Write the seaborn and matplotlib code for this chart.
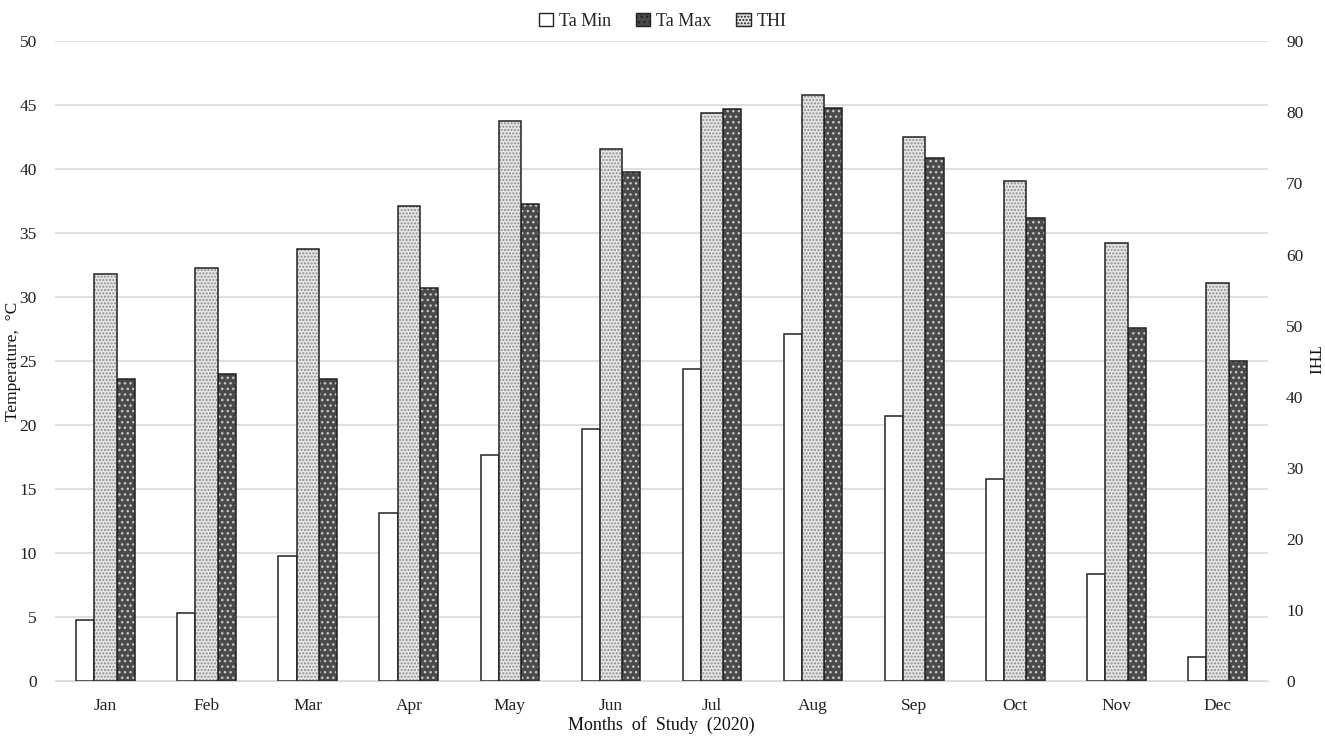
import numpy as np
import pandas as pd
import matplotlib
matplotlib.use('Agg')
import matplotlib.pyplot as plt
import seaborn as sns
from matplotlib.patches import Patch

months = ['Jan', 'Feb', 'Mar', 'Apr', 'May', 'Jun', 'Jul', 'Aug', 'Sep', 'Oct', 'Nov', 'Dec']
ta_min = [4.8, 5.3, 9.8, 13.1, 17.7, 19.7, 24.4, 27.1, 20.7, 15.8, 8.4, 1.9]
ta_max = [23.6, 24.0, 23.6, 30.7, 37.3, 39.8, 44.7, 44.8, 40.9, 36.2, 27.6, 25.0]
thi = [57.2, 58.1, 60.8, 66.8, 78.8, 74.9, 79.9, 82.4, 76.5, 70.4, 61.6, 56.0]

sns.set_style('white')
plt.rcParams['font.family'] = ['Liberation Serif', 'DejaVu Serif']

fig = plt.figure(figsize=(13.25, 7.38), dpi=100)
ax = fig.add_axes([0.0415, 0.0772, 0.9155, 0.8668])
ax2 = ax.twinx()

idx = np.arange(len(months))

# light dotted fill for THI, dark fill with light dots for Ta Max
styles = {
    'Ta Min': dict(face='white', hatch=None, hcol='white', w=0.18, off=-0.2),
    'THI': dict(face='#e6e6e6', hatch='.....', hcol='#8c8c8c', w=0.22, off=0.0),
    'Ta Max': dict(face='#4a4a4a', hatch='...', hcol='#c8c8c8', w=0.18, off=0.2),
}

def draw(axis, name, vals):
    st = styles[name]
    df = pd.DataFrame({'x': idx + st['off'], 'y': vals})
    n0 = len(axis.patches)
    sns.barplot(data=df, x='x', y='y', native_scale=True, width=st['w'],
                color=st['face'], saturation=1, ax=axis, errorbar=None)
    for p in axis.patches[n0:]:
        p.set_facecolor(st['face'])
        p.set_linewidth(0)
        if st['hatch']:
            p.set_hatch(st['hatch'])
            p.set_edgecolor(st['hcol'])
    # black outline on top
    n1 = len(axis.patches)
    sns.barplot(data=df, x='x', y='y', native_scale=True, width=st['w'],
                fill=False, color='black', ax=axis, errorbar=None, linewidth=1.1)
    for p in axis.patches[n1:]:
        p.set_edgecolor('#222222')
        p.set_facecolor('none')
        p.set_linewidth(1.1)

draw(ax, 'Ta Min', ta_min)
draw(ax, 'Ta Max', ta_max)
draw(ax2, 'THI', thi)

ax.set_xlim(-0.5, 11.5)
ax.set_ylim(0, 50)
ax2.set_ylim(0, 90)
ax.set_yticks(np.arange(0, 51, 5))
ax2.set_yticks(np.arange(0, 91, 10))
ax.set_xticks(idx)
ax.set_xticklabels(months)

ax.set_axisbelow(True)
ax.yaxis.grid(True, color='#d9d9d9', linewidth=1.2)
ax.xaxis.grid(False)
ax2.grid(False)

for a in (ax, ax2):
    for s in ['top', 'left', 'right']:
        a.spines[s].set_visible(False)
    a.spines['bottom'].set_color('#d9d9d9')
    a.tick_params(length=0, labelsize=12.5, colors='#222222')
ax2.spines['bottom'].set_visible(False)
ax.tick_params(axis='y', pad=13)
ax2.tick_params(axis='y', pad=13)
ax.tick_params(axis='x', pad=12)

ax.set_xlabel('Months  of  Study  (2020)', fontsize=13, labelpad=2, color='#111111')
ax.set_ylabel('')
ax2.set_ylabel('')
fig.text(0.0095, 0.511, 'Temperature,  °C', rotation=90, ha='center', va='center',
         fontsize=12.5, color='#111111')
fig.text(0.991, 0.511, 'THI', rotation=270, ha='center', va='center',
         fontsize=12.5, color='#111111')

handles = [
    Patch(facecolor='white', edgecolor='#222222', label='Ta Min'),
    Patch(facecolor='#4a4a4a', edgecolor='#222222', hatch='...', label='Ta Max'),
    Patch(facecolor='#e6e6e6', edgecolor='#222222', hatch='.....', label='THI'),
]
fig.legend(handles=handles, loc='upper center', bbox_to_anchor=(0.5, 1.005), ncol=3,
           frameon=False, fontsize=13, handlelength=0.8, handleheight=0.8,
           handletextpad=0.3, columnspacing=1.4)

fig.savefig('out.png', dpi=100)
